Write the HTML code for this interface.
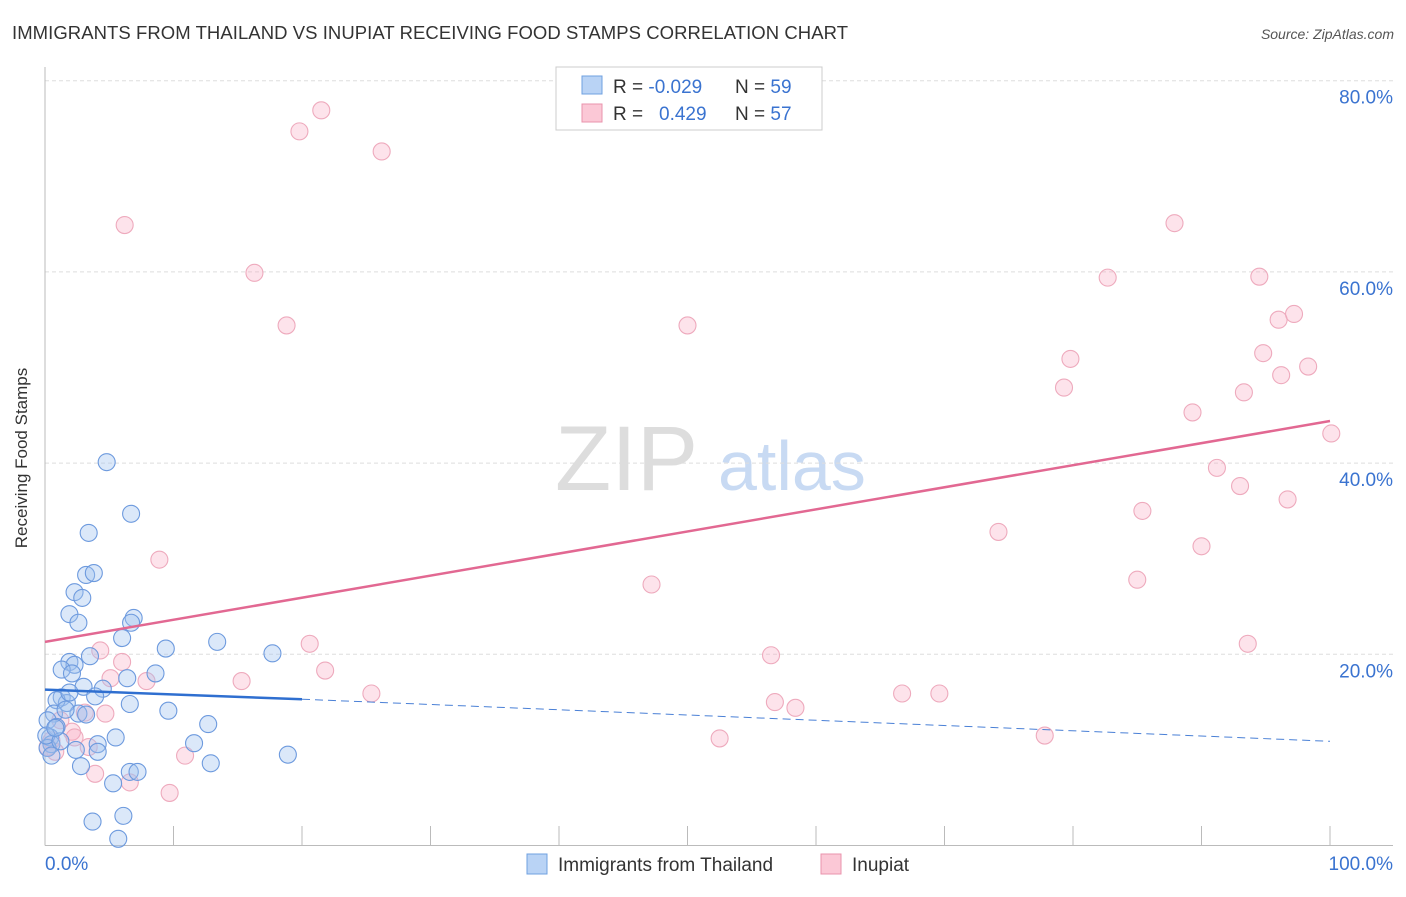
<!DOCTYPE html>
<html><head><meta charset="utf-8"><style>
body{margin:0;background:#fff;font-family:"Liberation Sans",sans-serif}
svg text{font-family:"Liberation Sans",sans-serif}
</style></head><body>
<svg id="chart" width="1406" height="892">
<text x="12" y="39" font-size="18.5" fill="#333" textLength="836">IMMIGRANTS FROM THAILAND VS INUPIAT RECEIVING FOOD STAMPS CORRELATION CHART</text>
<text x="1394" y="39" font-size="14" fill="#555" font-style="italic" text-anchor="end">Source: ZipAtlas.com</text>
<text x="27" y="458" font-size="17" fill="#333" text-anchor="middle" transform="rotate(-90 27 458)">Receiving Food Stamps</text>
<text x="555" y="490" font-size="92" fill="#ddd" font-family="Liberation Serif">ZIP</text>
<text x="718" y="490" font-size="70" fill="#c8daf3">atlas</text>
<g id="grid"></g><g id="pts"></g><g id="lines"></g>
<g>
<rect x="556" y="67" width="266" height="63" fill="#fff" stroke="#ccc"/>
<rect x="582" y="76" width="20" height="18" fill="#b9d3f5" stroke="#6fa0e0"/>
<rect x="582" y="104" width="20" height="18" fill="#fbc8d6" stroke="#ea93ac"/>
<text x="613" y="93" font-size="19" fill="#333">R = <tspan fill="#3a73d0">-0.029</tspan></text>
<text x="735" y="93" font-size="19" fill="#333">N = <tspan fill="#3a73d0">59</tspan></text>
<text x="613" y="120" font-size="19" fill="#333">R = <tspan fill="#3a73d0" x="659">0.429</tspan></text>
<text x="735" y="120" font-size="19" fill="#333">N = <tspan fill="#3a73d0">57</tspan></text>
</g>
<g>
<rect x="527" y="854" width="20" height="20" fill="#b9d3f5" stroke="#6fa0e0"/>
<text x="558" y="871" font-size="19" fill="#333">Immigrants from Thailand</text>
<rect x="821" y="854" width="20" height="20" fill="#fbc8d6" stroke="#ea93ac"/>
<text x="852" y="871" font-size="19" fill="#333">Inupiat</text>
</g>
</svg>
<script>
const yTicks=[20,40,60,80];
const xTickLabels=["0.0%","100.0%"];
const blueX=[4.8,6.7,3.4,3.2,3.8,2.3,2.9,1.9,2.6,6.9,6.7,6.0,9.4,13.4,17.7,3.5,1.9,2.3,1.3,2.1,8.6,6.4,4.5,3.0,3.9,1.3,1.7,0.9,6.6,9.6,12.7,0.7,2.6,3.2,0.2,0.9,5.5,4.1,11.6,0.4,0.5,0.2,18.9,2.4,4.1,2.8,12.9,6.6,7.2,5.3,3.7,6.1,5.7,0.1,1.2,0.5,0.8,1.9,1.6];
const blueY=[40.1,34.7,32.7,28.3,28.5,26.5,25.9,24.2,23.3,23.8,23.3,21.7,20.6,21.3,20.1,19.8,19.2,18.9,18.4,18.0,18.0,17.5,16.4,16.6,15.6,15.5,14.9,15.2,14.8,14.1,12.7,13.8,13.8,13.7,13.1,12.4,11.3,10.6,10.7,11.3,10.6,10.2,9.5,10.0,9.8,8.3,8.6,7.7,7.7,6.5,2.5,3.1,0.7,11.5,10.9,9.4,12.3,16.0,14.2];
const pinkX=[21.5,19.8,26.2,6.2,16.3,18.8,50.0,87.9,82.7,94.5,96.0,97.2,79.8,79.3,94.8,96.2,98.3,89.3,93.3,100.1,91.2,93.0,85.4,96.7,74.2,90.0,8.9,47.2,85.0,20.6,93.6,4.3,6.0,56.5,21.8,15.3,7.9,5.1,25.4,66.7,69.6,56.8,58.4,77.8,52.5,3.1,4.7,2.1,2.3,3.4,10.9,3.9,6.6,9.7,0.5,0.8,0.2,1.2];
const pinkY=[76.9,74.7,72.6,64.9,59.9,54.4,54.4,65.1,59.4,59.5,55.0,55.6,50.9,47.9,51.5,49.2,50.1,45.3,47.4,43.1,39.5,37.6,35.0,36.2,32.8,31.3,29.9,27.3,27.8,21.1,21.1,20.4,19.2,19.9,18.3,17.2,17.2,17.5,15.9,15.9,15.9,15.0,14.4,11.5,11.2,13.9,13.8,11.9,11.3,10.3,9.4,7.5,6.6,5.5,11.0,9.8,10.3,13.1];
const pinkTrend=[21.3,44.4];
const blueTrend=[16.3,15.3,10.9];
const NS="http://www.w3.org/2000/svg";
const X0=45,X1=1330,Y0=845.5,YS=9.56;
function sx(v){return X0+(X1-X0)*v/100}
function sy(v){return Y0-v*YS}
function mk(t,a,p){const e=document.createElementNS(NS,t);for(const k in a)e.setAttribute(k,a[k]);p.appendChild(e);return e}
const grid=document.getElementById('grid');
for(const t of yTicks){
 const l=mk('line',{x1:X0,x2:1393,y1:sy(t),y2:sy(t),stroke:'#ddd','stroke-dasharray':'4,3'},grid);
 
 
 const tx=mk('text',{x:1393,y:sy(t)+23,'font-size':19,fill:'#3a73d0','text-anchor':'end'},grid);
 tx.textContent=t.toFixed(1)+'%';
 
 
}
const ax=mk('line',{x1:X0,x2:X0,y1:67,y2:Y0,stroke:'#bbb'},grid);


const bx=mk('line',{x1:X0,x2:1393,y1:Y0,y2:Y0,stroke:'#bbb'},grid);


for(let i=1;i<=10;i++){
 const tk=mk('line',{x1:sx(i*10),x2:sx(i*10),y1:826,y2:Y0,stroke:'#bbb'},grid);
 
 
}
const xl0=mk('text',{x:45,y:870,'font-size':19,fill:'#3a73d0'},grid);xl0.textContent=xTickLabels[0];


const xl1=mk('text',{x:1393,y:870,'font-size':19,fill:'#3a73d0','text-anchor':'end'},grid);xl1.textContent=xTickLabels[1];


const pts=document.getElementById('pts');
for(let i=0;i<pinkX.length;i++){
 const c=mk('circle',{cx:sx(pinkX[i]),cy:sy(pinkY[i]),r:8.5,fill:'rgba(248,170,195,0.33)',stroke:'#eeaabd','stroke-width':1.1},pts);
 
 
}
for(let i=0;i<blueX.length;i++){
 const c=mk('circle',{cx:sx(blueX[i]),cy:sy(blueY[i]),r:8.5,fill:'rgba(160,195,240,0.38)',stroke:'#6d9ade','stroke-width':1.1},pts);
 
 
}
const lines=document.getElementById('lines');
const pl=mk('line',{x1:sx(0),y1:sy(pinkTrend[0]),x2:sx(100),y2:sy(pinkTrend[1]),stroke:'#e26892','stroke-width':2.5},lines);


const bl=mk('line',{x1:sx(0),y1:sy(blueTrend[0]),x2:sx(20),y2:sy(blueTrend[1]),stroke:'#2f6fd0','stroke-width':2.5},lines);


const bd=mk('line',{x1:sx(20),y1:sy(blueTrend[1]),x2:sx(100),y2:sy(blueTrend[2]),stroke:'#4a80d6','stroke-width':1,'stroke-dasharray':'8,5'},lines);


</script>
</body></html>
